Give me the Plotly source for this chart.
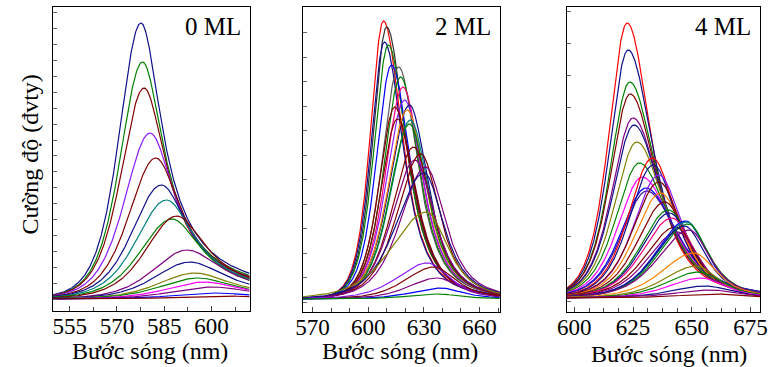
import numpy as np
import plotly.graph_objects as go

# ---------------- data ----------------
# 0 ML panel: peak wavelength (nm), peak intensity above baseline (a.u.), left/right half widths (nm)
ml0_center = [577.6, 578.1, 578.6, 580.5, 582.3, 584.1, 585.7, 587.5, 589.0, 592.2, 593.2, 594.8, 595.8, 597.9, 600.5, 601.0, 603.0]
ml0_height = [276, 237, 211, 166, 141, 114, 99, 80, 83, 49, 37, 26, 21, 17, 12, 6, 3]
ml0_wl = [8.1, 8.3, 8.6, 9.5, 10.0, 10.8, 11.2, 11.8, 11.5, 12.5, 13.0, 13.5, 14.0, 14.0, 15.0, 15.0, 15.0]
ml0_wr = [8.9, 9.2, 9.5, 10.5, 11.0, 11.5, 12.0, 12.5, 12.5, 15.0, 15.0, 15.0, 15.0, 15.0, 16.0, 17.0, 18.0]
ml0_base = 12

# 2 ML panel
ml2_center = [608.2, 609.9, 608.7, 610.8, 612.5, 616.4, 617.4, 618.7, 619.6, 622.2, 614.3, 621.0, 622.7, 615.7,
              622.2, 624.5, 625.2, 628.4, 631.0, 630.1, 631.5, 631.9, 635.4, 637.2, 638.9, 637.2]
ml2_height = [278, 272, 257, 254, 234, 232, 222, 212, 199, 194, 192, 189, 179, 180,
              175, 152, 139, 145, 132, 126, 87, 36, 32, 21, 11, 5]
ml2_wl = [8.3, 8.6, 8.5, 9.0, 9.5, 10.5, 10.5, 11.0, 11.5, 12.5, 10.0, 12.0, 12.5, 10.5,
          12.5, 13.7, 14.5, 15.0, 16.0, 17.6, 22.0, 19.0, 18.0, 18.0, 18.0, 18.0]
ml2_wr = [12.0, 12.0, 12.0, 12.0, 12.0, 12.0, 12.0, 12.0, 12.0, 12.0, 12.0, 12.0, 12.0, 12.0,
          12.0, 12.0, 12.5, 12.0, 12.5, 12.5, 13.5, 14.0, 14.0, 14.0, 14.0, 14.0]
ml2_base = 13

# 4 ML panel
ml4_center = [622.5, 622.9, 623.6, 623.8, 625.0, 625.4, 626.6, 627.7, 628.9, 630.5, 630.8,
              633.3, 633.6, 636.0, 636.1, 636.8, 638.5, 640.2, 640.6, 641.6, 643.1, 644.0,
              647.5, 648.0, 648.5, 647.0, 649.0, 651.0, 652.0, 653.0, 654.0, 656.0, 658.0, 660.0]
ml4_height = [275, 248, 216, 204, 180, 173, 156, 135, 121, 110, 107,
              140, 133, 123, 116, 105, 96, 88, 85, 80, 71, 66,
              77, 76, 74, 72, 68, 45, 32, 26, 20, 12, 8, 4]
ml4_wl = [9.2, 9.4, 9.8, 10.0, 10.5, 10.7, 11.2, 11.7, 12.0, 12.5, 12.5,
          12.0, 12.0, 12.5, 13.0, 13.0, 13.5, 14.0, 14.0, 14.5, 15.0, 15.0,
          15.0, 15.0, 15.0, 15.0, 15.5, 16.0, 16.0, 16.0, 16.0, 17.0, 18.0, 18.0]
ml4_wr = [12.0, 12.9, 13.3, 13.5, 14.0, 14.0, 14.2, 15.0, 15.5, 15.8, 15.8,
          12.0, 12.0, 12.0, 12.0, 12.0, 12.0, 11.5, 11.5, 11.5, 11.0, 11.0,
          10.5, 10.5, 10.5, 10.5, 10.5, 11.0, 11.0, 12.0, 12.0, 13.0, 14.0, 15.0]
ml4_base = 14

panel_labels = ["0 ML", "2 ML", "4 ML"]
x_title = "Bước sóng (nm)"
y_title = "Cường độ (đvty)"

# ---------------- styles ----------------
NAVY, GREEN, WINE, VIOLET, TEAL = "#10108a", "#008000", "#800000", "#8c1aff", "#008080"
PURPLE, OLIVE, MAGENTA, BLUE, RED = "#800080", "#808000", "#ff00ff", "#0000ff", "#ff0000"
GRAY, DGRAY, PINK, ORANGE = "#555555", "#303030", "#ff0080", "#ff8000"

ml0_colors = [NAVY, GREEN, WINE, VIOLET, WINE, NAVY, TEAL, GREEN, WINE, PURPLE, NAVY, OLIVE, GREEN,
              MAGENTA, PURPLE, BLUE, WINE]
ml2_colors = [RED, DGRAY, NAVY, GREEN, BLUE, GRAY, GREEN, PINK, VIOLET, NAVY, WINE, ORANGE, TEAL, WINE,
              GREEN, WINE, PURPLE, WINE, PURPLE, NAVY, OLIVE, VIOLET, WINE, PURPLE, BLUE, GREEN]
ml4_colors = [RED, NAVY, GREEN, WINE, PURPLE, NAVY, OLIVE, GREEN, MAGENTA, BLUE, "#3a1a9a",
              RED, NAVY, VIOLET, WINE, ORANGE, WINE, GREEN, NAVY, PINK, WINE, PURPLE,
              BLUE, TEAL, GREEN, NAVY, PURPLE, ORANGE, OLIVE, GREEN, MAGENTA, NAVY, PURPLE, WINE]


def profile(x, c, a, wl, wr, ml, mr):
    """Asymmetric Pearson-VII line shape built from the peak parameters."""
    d = x - c
    w = np.where(d < 0, wl, wr)
    m = np.where(d < 0, ml, mr)
    return a * (1 + (d / w) ** 2 * (2 ** (1 / m) - 1)) ** (-m)


W, H = 778, 367
FONT = "Liberation Serif, Times New Roman, serif"

panels = [
    dict(c=ml0_center, h=ml0_height, wl=ml0_wl, wr=ml0_wr, base=ml0_base, col=ml0_colors, ml=3.0, mr=0.75,
         box=(44, 245, 7, 311), xr=[549.7, 612.1], dt=15, t0=555, mdt=7.5, yt0=12, ydt=15.9),
    dict(c=ml2_center, h=ml2_height, wl=ml2_wl, wr=ml2_wr, base=ml2_base, col=ml2_colors, ml=3.0, mr=1.5,
         box=(299.5, 500.7, 7, 312), xr=[564.8, 670.9], dt=30, t0=570, mdt=10, yt0=10, ydt=24.5),
    dict(c=ml4_center, h=ml4_height, wl=ml4_wl, wr=ml4_wr, base=ml4_base, col=ml4_colors, ml=3.0, mr=1.5,
         box=(569.3, 767, 7, 312), xr=[596.8, 679.2], dt=25, t0=600, mdt=6.25, yt0=11, ydt=32.2),
]

fig = go.Figure()
layout = dict(width=W, height=H, margin=dict(l=0, r=0, t=0, b=0), showlegend=False,
              paper_bgcolor="white", plot_bgcolor="white")
annotations = []

for i, p in enumerate(panels):
    k = "" if i == 0 else str(i + 1)
    x0, x1, yt, yb = p["box"]
    x = np.linspace(p["xr"][0], p["xr"][1], 500)
    for j in range(len(p["c"])):
        y = p["base"] + profile(x, p["c"][j], p["h"][j], p["wl"][j], p["wr"][j], p["ml"], p["mr"])
        fig.add_trace(go.Scatter(x=x, y=y, mode="lines", line=dict(color=p["col"][j], width=1.2),
                                 xaxis="x" + k, yaxis="y" + k, hoverinfo="skip"))
    layout["xaxis" + k] = dict(domain=[x0 / W, x1 / W], range=p["xr"], anchor="y" + k,
                               showline=True, linecolor="black", linewidth=1.3, mirror=True,
                               ticks="inside", ticklen=5, tickcolor="#444", tickwidth=1,
                               tick0=p["t0"], dtick=p["dt"], showgrid=False, zeroline=False,
                               ticklabelstandoff=-6,
                               minor=dict(ticks="inside", dtick=p["mdt"], tick0=p["t0"], ticklen=4,
                                          tickcolor="#444", showgrid=False),
                               tickfont=dict(family=FONT, size=23, color="black"))
    layout["yaxis" + k] = dict(domain=[1 - yb / H, 1 - yt / H], range=[0, yb - yt], anchor="x" + k,
                               showline=True, linecolor="black", linewidth=1.3, mirror=True,
                               ticks="inside", ticklen=4, tickcolor="#666", tickwidth=1,
                               tick0=p["yt0"], dtick=p["ydt"], showticklabels=False,
                               showgrid=False, zeroline=False)
    annotations.append(dict(text=panel_labels[i], x=(x1 - 7) / W, y=1 - 27 / H, xref="paper", yref="paper",
                            xanchor="right", yanchor="middle", showarrow=False,
                            font=dict(family=FONT, size=25, color="black")))
    ty = 354 if i == 2 else 351
    annotations.append(dict(text=x_title, x=((x0 + x1) / 2 + (6 if i == 2 else -1)) / W, y=1 - ty / H,
                            xref="paper", yref="paper", xanchor="center", yanchor="middle",
                            showarrow=False, font=dict(family=FONT, size=24, color="black")))

annotations.append(dict(text=y_title, x=20 / W, y=1 - 155 / H, xref="paper", yref="paper",
                        xanchor="center", yanchor="middle", textangle=-90, showarrow=False,
                        font=dict(family=FONT, size=24, color="black")))
layout["annotations"] = annotations
fig.update_layout(**layout)
fig.write_html("out.html")
